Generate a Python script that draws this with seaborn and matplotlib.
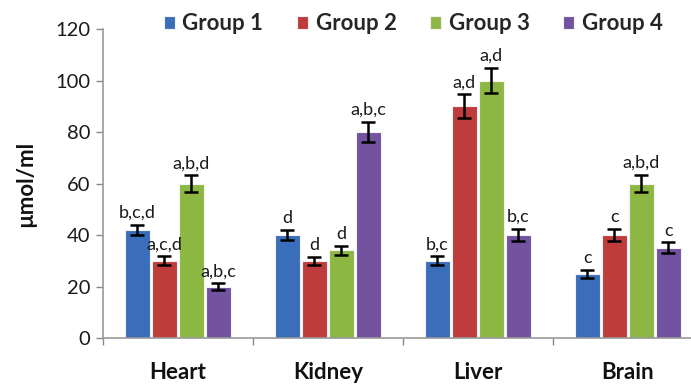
import matplotlib
matplotlib.use("Agg")
import matplotlib.pyplot as plt
import numpy as np
import pandas as pd
import seaborn as sns

organs = ["Heart", "Kidney", "Liver", "Brain"]
groups = ["Group 1", "Group 2", "Group 3", "Group 4"]

# mean concentration (µmol/ml) per organ, one list per group
group1 = [42, 40, 30, 25]
group2 = [30, 30, 90, 40]
group3 = [60, 34, 100, 60]
group4 = [20, 80, 40, 35]

# error (± half-length of the bars)
err1 = [2.0, 2.0, 1.7, 1.5]
err2 = [1.7, 1.5, 4.7, 2.4]
err3 = [3.2, 1.6, 5.0, 3.4]
err4 = [1.2, 4.0, 2.4, 2.1]

# significance letters above each bar
sig1 = ["b,c,d", "d", "b,c", "c"]
sig2 = ["a,c,d", "d", "a,d", "c"]
sig3 = ["a,b,d", "d", "a,d", "a,b,d"]
sig4 = ["a,b,c", "a,b,c", "b,c", "c"]

colors = ["#3A6EBA", "#BE3C3C", "#8DB743", "#7352A0"]

values = [group1, group2, group3, group4]
errors = [err1, err2, err3, err4]
letters = [sig1, sig2, sig3, sig4]

df = pd.DataFrame({
    "organ": np.tile(organs, len(groups)),
    "group": np.repeat(groups, len(organs)),
    "value": np.concatenate(values),
})

sns.set_style("white")
plt.rcParams["font.family"] = ["Lato", "DejaVu Sans"]

fig = plt.figure(figsize=(6.91, 3.85), dpi=100)
ax = fig.add_axes([0.149, 0.122, 0.868, 0.8026])

sns.barplot(data=df, x="organ", y="value", hue="group", order=organs,
            hue_order=groups, palette=colors, width=0.72, gap=0.08,
            errorbar=None, edgecolor="#f2f2f2", linewidth=0.8, ax=ax,
            saturation=1)

# error bars and letters, placed from the drawn bars
bar_containers = list(ax.containers)
for gi, container in enumerate(bar_containers):
    for oi, bar in enumerate(container.patches):
        xc = bar.get_x() + bar.get_width() / 2
        h = bar.get_height()
        e = errors[gi][oi]
        ax.errorbar(xc, h, yerr=e, fmt="none", ecolor="black",
                    elinewidth=1.8, capsize=5, capthick=1.8, zorder=5)
        ax.text(xc, h + e + 1.5, letters[gi][oi], ha="center", va="bottom",
                fontsize=13, color="#1a1a1a")

ax.set_ylim(0, 120)
ax.set_xlim(-0.5, 3.5)
ax.set_yticks(range(0, 121, 20))
ax.tick_params(axis="y", labelsize=14.5, colors="#888888", length=5,
               width=1, direction="out", left=True, pad=4)
for lbl in ax.get_yticklabels():
    lbl.set_color("#1a1a1a")

# ticks between categories, labels at category centers
ax.set_xticks([-0.5, 0.5, 1.5, 2.5, 3.5])
ax.set_xticklabels([])
ax.tick_params(axis="x", which="major", bottom=True, length=5, width=1,
               colors="#888888", direction="out")
ax.set_xticks(range(len(organs)), minor=True)
ax.set_xticklabels(organs, minor=True, fontsize=16, fontweight="bold",
                   color="#111111")
ax.tick_params(axis="x", which="minor", length=0, pad=17)

ax.set_xlabel("")
ax.set_ylabel("µmol/ml", fontsize=16, fontweight="bold", labelpad=14,
              color="#111111")

sns.despine(ax=ax, top=True, right=True)
for side in ["left", "bottom"]:
    ax.spines[side].set_color("#999999")
    ax.spines[side].set_linewidth(1.2)

ax.legend(loc="upper center", bbox_to_anchor=(0.517, 1.115), ncol=4,
          frameon=False, handlelength=0.5, handleheight=0.5,
          handletextpad=0.35, columnspacing=1.5,
          prop={"size": 16, "weight": "bold"})

fig.savefig("out.png", dpi=100)
